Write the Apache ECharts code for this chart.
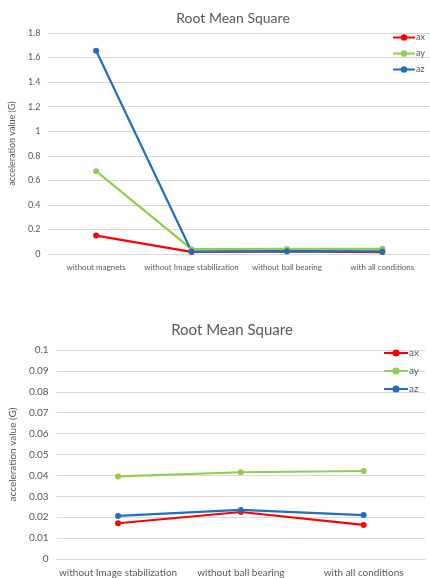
<!DOCTYPE html>
<html><head><meta charset="utf-8">
<script src="https://cdn.jsdelivr.net/npm/echarts@6/dist/echarts.min.js"></script>
<style>html,body{margin:0;padding:0;background:#fff}#c{width:430px;height:578px}</style>
</head><body><div id="c"></div>
<script>
var seriesNames = ['ax', 'ay', 'az'];
var topCategories = ['without magnets', 'without Image stabilization', 'without ball bearing', 'with all conditions'];
var topAx = [0.15, 0.017, 0.022, 0.016];
var topAy = [0.675, 0.039, 0.041, 0.042];
var topAz = [1.655, 0.020, 0.023, 0.021];
var topTicks = [0, 0.2, 0.4, 0.6, 0.8, 1, 1.2, 1.4, 1.6, 1.8];

var botCategories = ['without Image stabilization', 'without ball bearing', 'with all conditions'];
var botAx = [0.0171, 0.0225, 0.0163];
var botAy = [0.0395, 0.0415, 0.0421];
var botAz = [0.0206, 0.0235, 0.0210];
var botTicks = [0, 0.01, 0.02, 0.03, 0.04, 0.05, 0.06, 0.07, 0.08, 0.09, 0.1];

var colors = ['#ff0000', '#8fce4f', '#1f6fbd'];
var font = 'Lato, "Liberation Sans", sans-serif';
var grey = '#595959';

function yAxisDef(gi, ticks, fs, gap) {
  return {
    type: 'value', gridIndex: gi,
    min: ticks[0], max: ticks[ticks.length - 1], interval: ticks[1] - ticks[0],
    name: 'acceleration value (G)', nameLocation: 'middle', nameGap: gap,
    nameTextStyle: { color: grey, fontSize: fs, fontFamily: font },
    axisLine: { show: false }, axisTick: { show: false },
    axisLabel: { color: grey, fontSize: fs, fontFamily: font, margin: 8,
      formatter: function (v) { return String(parseFloat(v.toFixed(4))); } },
    splitLine: { lineStyle: { color: '#d9d9d9', width: 1 } }
  };
}
function xAxisDef(gi, cats, fs) {
  return {
    type: 'category', gridIndex: gi, data: cats,
    axisLine: { show: true, lineStyle: { color: '#d9d9d9' } },
    axisTick: { show: false },
    axisLabel: { color: grey, fontSize: fs, fontFamily: font, margin: 9, interval: 0 }
  };
}
function ser(name, data, idx, ai) {
  return {
    name: name, type: 'line', data: data, xAxisIndex: ai, yAxisIndex: ai,
    symbol: 'circle', symbolSize: 6,
    lineStyle: { width: 2.2, color: colors[idx] },
    itemStyle: { color: colors[idx] }
  };
}

var chart = echarts.init(document.getElementById('c'));
chart.setOption({
  animation: false,
  color: colors,
  title: [
    { text: 'Root Mean Square', left: 228, top: 6, textAlign: 'center',
      textStyle: { color: grey, fontSize: 14, fontWeight: 'normal', fontFamily: font } },
    { text: 'Root Mean Square', left: 227, top: 318, textAlign: 'center',
      textStyle: { color: grey, fontSize: 15, fontWeight: 'normal', fontFamily: font } }
  ],
  legend: [
    { data: seriesNames, orient: 'vertical', right: 0, top: 28, itemGap: 7, itemWidth: 22, itemHeight: 8,
      textStyle: { color: grey, fontSize: 9, fontFamily: font, padding: [0, 0, 0, -4] } },
    { data: seriesNames, orient: 'vertical', right: 6, top: 343, itemGap: 8, itemWidth: 24, itemHeight: 9,
      textStyle: { color: grey, fontSize: 10, fontFamily: font, padding: [0, 0, 0, -4] } }
  ],
  grid: [
    { left: 39, right: 0, top: 33, height: 221, containLabel: false },
    { left: 51, right: 5, top: 350, height: 211, containLabel: false }
  ],
  xAxis: [ xAxisDef(0, topCategories, 8), xAxisDef(1, botCategories, 10) ],
  yAxis: [ yAxisDef(0, topTicks, 9, 26), yAxisDef(1, botTicks, 10, 34) ],
  series: [
    ser('ax', topAx, 0, 0), ser('ay', topAy, 1, 0), ser('az', topAz, 2, 0),
    ser('ax', botAx, 0, 1), ser('ay', botAy, 1, 1), ser('az', botAz, 2, 1)
  ]
});
</script></body></html>
